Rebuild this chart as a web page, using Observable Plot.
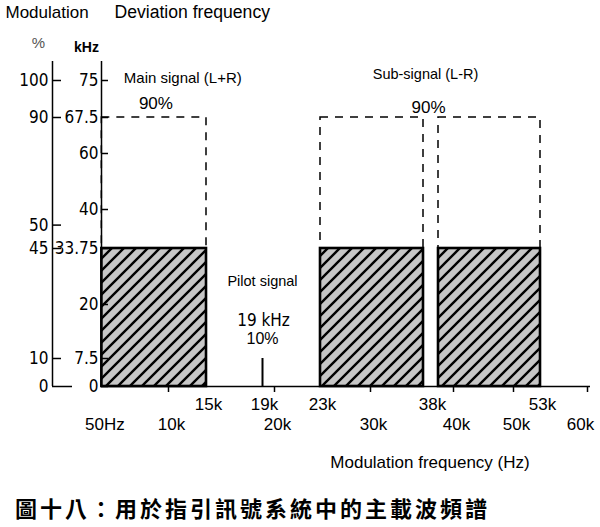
<!DOCTYPE html>
<html><head><meta charset="utf-8">
<script src="https://cdn.jsdelivr.net/npm/d3@7"></script>
<script src="https://cdn.jsdelivr.net/npm/@observablehq/plot@0.6"></script>
<style>
html,body{margin:0;padding:0;background:#fff;width:600px;height:527px;overflow:hidden;}
#chart svg{display:block;}
#caption{font-family:"Noto Sans CJK TC","Noto Sans CJK SC",sans-serif;font-size:22px;font-weight:bold;letter-spacing:3px;padding:16px 0 0 15px;line-height:22px;height:31px;color:#000;white-space:nowrap;}
</style></head><body>
<div id="chart"></div>
<div id="caption"></div>
<script>
// ---- data (kHz) ----
const bandNames = ["Main signal (L+R)", "Sub-signal LSB", "Sub-signal USB"];
const bandStartKHz = [0.05, 23, 38];
const bandEndKHz = [15, 38, 53];
const bandDeviationKHz = [33.75, 33.75, 33.75];      // 45 %
const bandMaxDeviationKHz = [67.5, 67.5, 67.5];      // 90 %
const pilotKHz = 19;
const pilotDeviationKHz = 7.5;                       // 10 %
const fullDeviationKHz = 75;                         // 100 %
const khzTicks = [0, 7.5, 20, 33.75, 40, 60, 67.5, 75];
const khzTickLabels = ["0", "7.5", "20", "33.75", "40", "60", "67.5", "75"];
const pctTicks = [0, 10, 45, 50, 90, 100];
const pctTickLabels = ["0", "10", "45", "50", "90", "100"];
const freqTicksUpper = [15, 19, 23, 38, 53];
const freqLabelsUpper = ["15k", "19k", "23k", "38k", "53k"];
const freqTicksLower = [0.05, 10, 20, 30, 40, 50, 60];
const freqLabelsLower = ["50Hz", "10k", "20k", "30k", "40k", "50k", "60k"];
const captionText = "圖十八：用於指引訊號系統中的主載波頻譜";

// ---- chart ----
const bands = bandStartKHz.map((s, i) => ({name: bandNames[i], start: s, end: bandEndKHz[i], dev: bandDeviationKHz[i], max: bandMaxDeviationKHz[i]}));
const pctKHz = pctTicks.map(p => p / 100 * fullDeviationKHz);
const insets = [{}, {insetRight: 7}, {insetLeft: 8}];
const SANS = "'Liberation Sans', Arial, sans-serif";
const NARROW = "'Liberation Sans Narrow', 'Arial Narrow', 'DejaVu Sans Condensed', sans-serif";
const T = {lineAnchor: "middle", fontFamily: SANS};

const marks = [];
bands.forEach((b, i) => {
  marks.push(Plot.rect([b], {x1: "start", x2: "end", y1: "dev", y2: "max", fill: "none", stroke: "black", strokeWidth: 1.5, strokeDasharray: "8,7", ...insets[i]}));
});
bands.forEach((b, i) => {
  marks.push(Plot.rect([b], {x1: "start", x2: "end", y1: 0, y2: "dev", fill: "url(#hatch)", stroke: "black", strokeWidth: 2.6, ...insets[i]}));
});
const nL = freqLabelsLower.length;
marks.push(
  Plot.ruleX([pilotKHz], {y1: 0, y2: pilotDeviationKHz, strokeWidth: 2}),
  // axis lines
  Plot.ruleX([0], {strokeWidth: 1.5}),
  Plot.ruleX([0], {dx: -49, strokeWidth: 1.5}),
  Plot.ruleY([0], {strokeWidth: 1.6}),
  // y ticks
  Plot.ruleY(khzTicks, {insetRight: 482, strokeWidth: 1.5}),
  Plot.ruleY(pctKHz.filter(d => d > 0), {dx: -49, insetRight: 480, strokeWidth: 1.5}),
  Plot.ruleY(pctKHz.filter(d => d === 0), {dx: -49, insetRight: 469, strokeWidth: 1.5}),
  Plot.text(khzTickLabels, {y: khzTicks, frameAnchor: "left", textAnchor: "end", lineAnchor: "middle", dx: -3, fontFamily: NARROW, fontSize: 17}),
  Plot.text(pctTickLabels, {y: pctKHz, frameAnchor: "left", textAnchor: "end", lineAnchor: "middle", dx: -53, fontFamily: NARROW, fontSize: 17}),
  // x ticks & labels
  Plot.ruleX(freqTicksLower.filter(d => d >= 1), {insetTop: 325, insetBottom: -6, strokeWidth: 1.5}),
  Plot.text(freqLabelsUpper, {x: freqTicksUpper, frameAnchor: "bottom", textAnchor: "middle", dy: 18, dx: 2, fontSize: 17, ...T}),
  Plot.text(freqLabelsLower.slice(0, nL - 1), {x: freqTicksLower.slice(0, nL - 1), frameAnchor: "bottom", textAnchor: "middle", dy: 38, dx: 3, fontSize: 17, ...T}),
  Plot.text(freqLabelsLower.slice(nL - 1), {x: freqTicksLower.slice(nL - 1), frameAnchor: "bottom", textAnchor: "middle", dy: 38, dx: -7, fontSize: 17, ...T}),
  Plot.text(["Modulation frequency (Hz)"], {frameAnchor: "bottom", textAnchor: "middle", dx: 84, dy: 76, fontSize: 17, ...T}),
  // headers
  Plot.text(["Modulation"], {frameAnchor: "top-left", textAnchor: "start", dx: -96, dy: -49, fontSize: 17, ...T}),
  Plot.text(["Deviation frequency"], {frameAnchor: "top-left", textAnchor: "start", dx: 13, dy: -49, fontSize: 17.6, ...T}),
  Plot.text(["%"], {frameAnchor: "top-left", textAnchor: "middle", dx: -63, dy: -18, fontSize: 15, fill: "#555", ...T}),
  Plot.text(["kHz"], {frameAnchor: "top-left", textAnchor: "middle", dx: -15, dy: -14, fontSize: 14, fontWeight: "bold", ...T}),
  // annotations
  Plot.text([bands[0]], {x: "start", y: fullDeviationKHz, text: d => d.name, textAnchor: "start", dx: 22, dy: -2, fontSize: 15, ...T}),
  Plot.text([bands[0]], {x: d => (d.start + d.end) / 2, y: "max", text: d => `${d.max / fullDeviationKHz * 100}%`, dx: 4, dy: -14, fontSize: 17, ...T}),
  Plot.text([bands[1]], {x: "end", y: fullDeviationKHz, text: () => "Sub-signal (L-R)", dx: -5, dy: -6, fontSize: 14.5, ...T}),
  Plot.text([bands[1]], {x: "end", y: "max", text: d => `${d.max / fullDeviationKHz * 100}%`, dx: -2, dy: -10, fontSize: 17, ...T}),
  Plot.text(["Pilot signal"], {x: pilotKHz, y: pilotDeviationKHz, dy: -77, fontSize: 14.5, ...T}),
  Plot.text(["19 kHz"], {x: pilotKHz, y: pilotDeviationKHz, dy: -38, dx: 1, lineAnchor: "middle", fontFamily: NARROW, fontSize: 17}),
  Plot.text([`${pilotDeviationKHz / fullDeviationKHz * 100}%`], {x: pilotKHz, y: pilotDeviationKHz, dy: -20, fontSize: 16, ...T})
);

const chart = Plot.plot({
  width: 600,
  height: 480,
  marginLeft: 101,
  marginRight: 10,
  marginTop: 61,
  marginBottom: 94,
  x: {type: "linear", domain: [0, 10, 15, 19, 20, 23, 30, 38, 40, 50, 53, 60], range: [101, 168, 206, 262, 274, 320, 370, 430, 453, 513, 540, 587], axis: null},
  y: {type: "linear", domain: [0, 7.5, 20, 33.75, 40, 60, 67.5, 75], range: [386, 358, 304, 248, 209, 153, 117, 80], axis: null},
  style: {background: "white", color: "black", fontFamily: SANS},
  marks
});

document.getElementById("chart").appendChild(chart);
const svg = d3.select(chart.tagName.toLowerCase() === "svg" ? chart : chart.querySelector("svg"));
const defs = svg.insert("defs", ":first-child");
const pat = defs.append("pattern").attr("id", "hatch").attr("patternUnits", "userSpaceOnUse").attr("width", 12).attr("height", 12);
pat.append("rect").attr("width", 12).attr("height", 12).attr("fill", "#c6c6c6");
pat.append("path").attr("d", "M-3,3L3,-3M0,12L12,0M9,15L15,9").attr("stroke", "black").attr("stroke-width", 2.4);
document.getElementById("caption").textContent = captionText;
</script>
</body></html>
